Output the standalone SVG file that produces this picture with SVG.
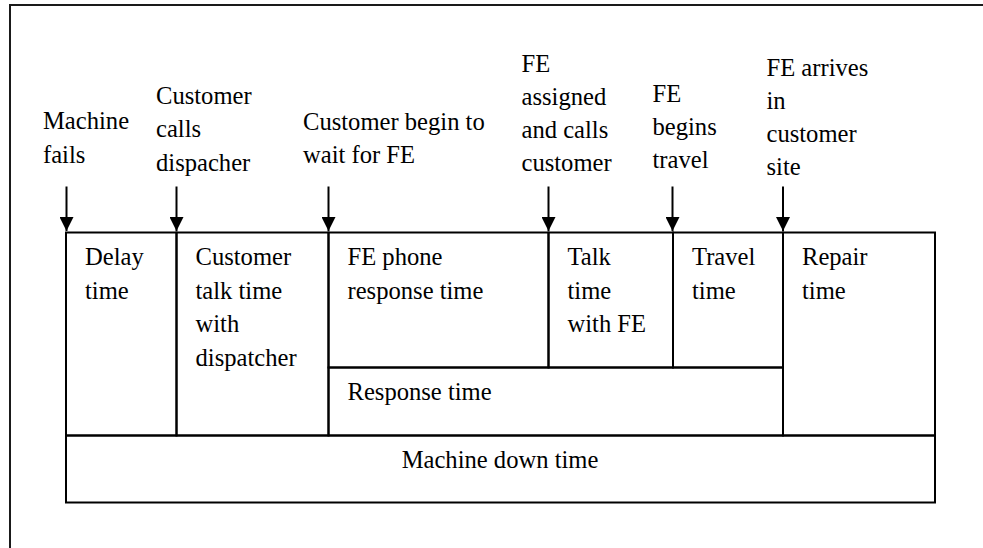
<svg xmlns="http://www.w3.org/2000/svg" width="983" height="548" viewBox="0 0 983 548">
  <style>
    text { font-family: 'Liberation Serif', 'Times New Roman', Times, 'DejaVu Serif', serif; font-size: 24.6px; fill: #000; }
    .frame { fill: none; stroke: #1a1a1a; stroke-width: 2; }
    .cell { fill: none; stroke: #000; stroke-width: 2; }
    .mid { text-anchor: middle; }
    .shaft { stroke: #000; stroke-width: 2; fill: none; }
  </style>
  <defs>
    <marker id="down" viewBox="0 0 14 14" refX="7" refY="14" markerWidth="14" markerHeight="14" markerUnits="userSpaceOnUse" orient="0">
      <path d="M0,0 L14,0 L7,14 Z" fill="#000"/>
    </marker>
  </defs>

  <rect class="frame" x="10" y="5" width="1000" height="560"/>

  <g font-family="Liberation Serif, Times New Roman, serif">
  <!-- event labels above the timeline -->
  <g id="ev-machine-fails">
    <text x="43" y="129">Machine</text>
    <text x="43" y="162.5">fails</text>
  </g>
  <g id="ev-customer-calls">
    <text x="156" y="104">Customer</text>
    <text x="156" y="137">calls</text>
    <text x="156" y="170.5">dispacher</text>
  </g>
  <g id="ev-customer-waits">
    <text x="303" y="130">Customer begin to</text>
    <text x="303" y="163">wait for FE</text>
  </g>
  <g id="ev-fe-assigned">
    <text x="521.5" y="71.5">FE</text>
    <text x="521.5" y="104.5">assigned</text>
    <text x="521.5" y="137.5">and calls</text>
    <text x="521.5" y="170.5">customer</text>
  </g>
  <g id="ev-fe-travel">
    <text x="652.5" y="101.5">FE</text>
    <text x="652.5" y="134.5">begins</text>
    <text x="652.5" y="167.5">travel</text>
  </g>
  <g id="ev-fe-arrives">
    <text x="766.5" y="75.5">FE arrives</text>
    <text x="766.5" y="108.5">in</text>
    <text x="766.5" y="141.5">customer</text>
    <text x="766.5" y="174.5">site</text>
  </g>

  <!-- timeline cells -->
  <g id="delay-time">
    <rect class="cell" x="66" y="232.5" width="110.5" height="203"/>
    <text x="85" y="265">Delay</text>
    <text x="85" y="299">time</text>
  </g>
  <g id="customer-talk-time">
    <rect class="cell" x="176.5" y="232.5" width="152" height="203"/>
    <text x="195.5" y="265">Customer</text>
    <text x="195.5" y="298.5">talk time</text>
    <text x="195.5" y="332">with</text>
    <text x="195.5" y="365.5">dispatcher</text>
  </g>
  <g id="fe-phone-response">
    <rect class="cell" x="328.5" y="232.5" width="220" height="135"/>
    <text x="347.5" y="265">FE phone</text>
    <text x="347.5" y="299">response time</text>
  </g>
  <g id="talk-time-fe">
    <rect class="cell" x="548.5" y="232.5" width="124.5" height="135"/>
    <text x="567.5" y="265">Talk</text>
    <text x="567.5" y="298.5">time</text>
    <text x="567.5" y="332">with FE</text>
  </g>
  <g id="travel-time">
    <rect class="cell" x="673" y="232.5" width="110" height="135"/>
    <text x="692" y="265">Travel</text>
    <text x="692" y="299">time</text>
  </g>
  <g id="response-time">
    <rect class="cell" x="328.5" y="367.5" width="454.5" height="68"/>
    <text x="347.5" y="400">Response time</text>
  </g>
  <g id="repair-time">
    <rect class="cell" x="783" y="232.5" width="152" height="203"/>
    <text x="802" y="265">Repair</text>
    <text x="802" y="299">time</text>
  </g>
  <g id="machine-down-time">
    <rect class="cell" x="66" y="435.5" width="869" height="67"/>
    <text class="mid" x="500" y="467.5">Machine down time</text>
  </g>
  </g>

  <!-- event arrows -->
  <g id="connectors">
    <line class="shaft" x1="66.5" y1="186.5" x2="66.5" y2="231" marker-end="url(#down)"/>
    <line class="shaft" x1="176.5" y1="186.5" x2="176.5" y2="231" marker-end="url(#down)"/>
    <line class="shaft" x1="328.5" y1="186.5" x2="328.5" y2="231" marker-end="url(#down)"/>
    <line class="shaft" x1="548.5" y1="186.5" x2="548.5" y2="231" marker-end="url(#down)"/>
    <line class="shaft" x1="672.5" y1="186.5" x2="672.5" y2="231" marker-end="url(#down)"/>
    <line class="shaft" x1="783" y1="186.5" x2="783" y2="231" marker-end="url(#down)"/>
  </g>
</svg>
